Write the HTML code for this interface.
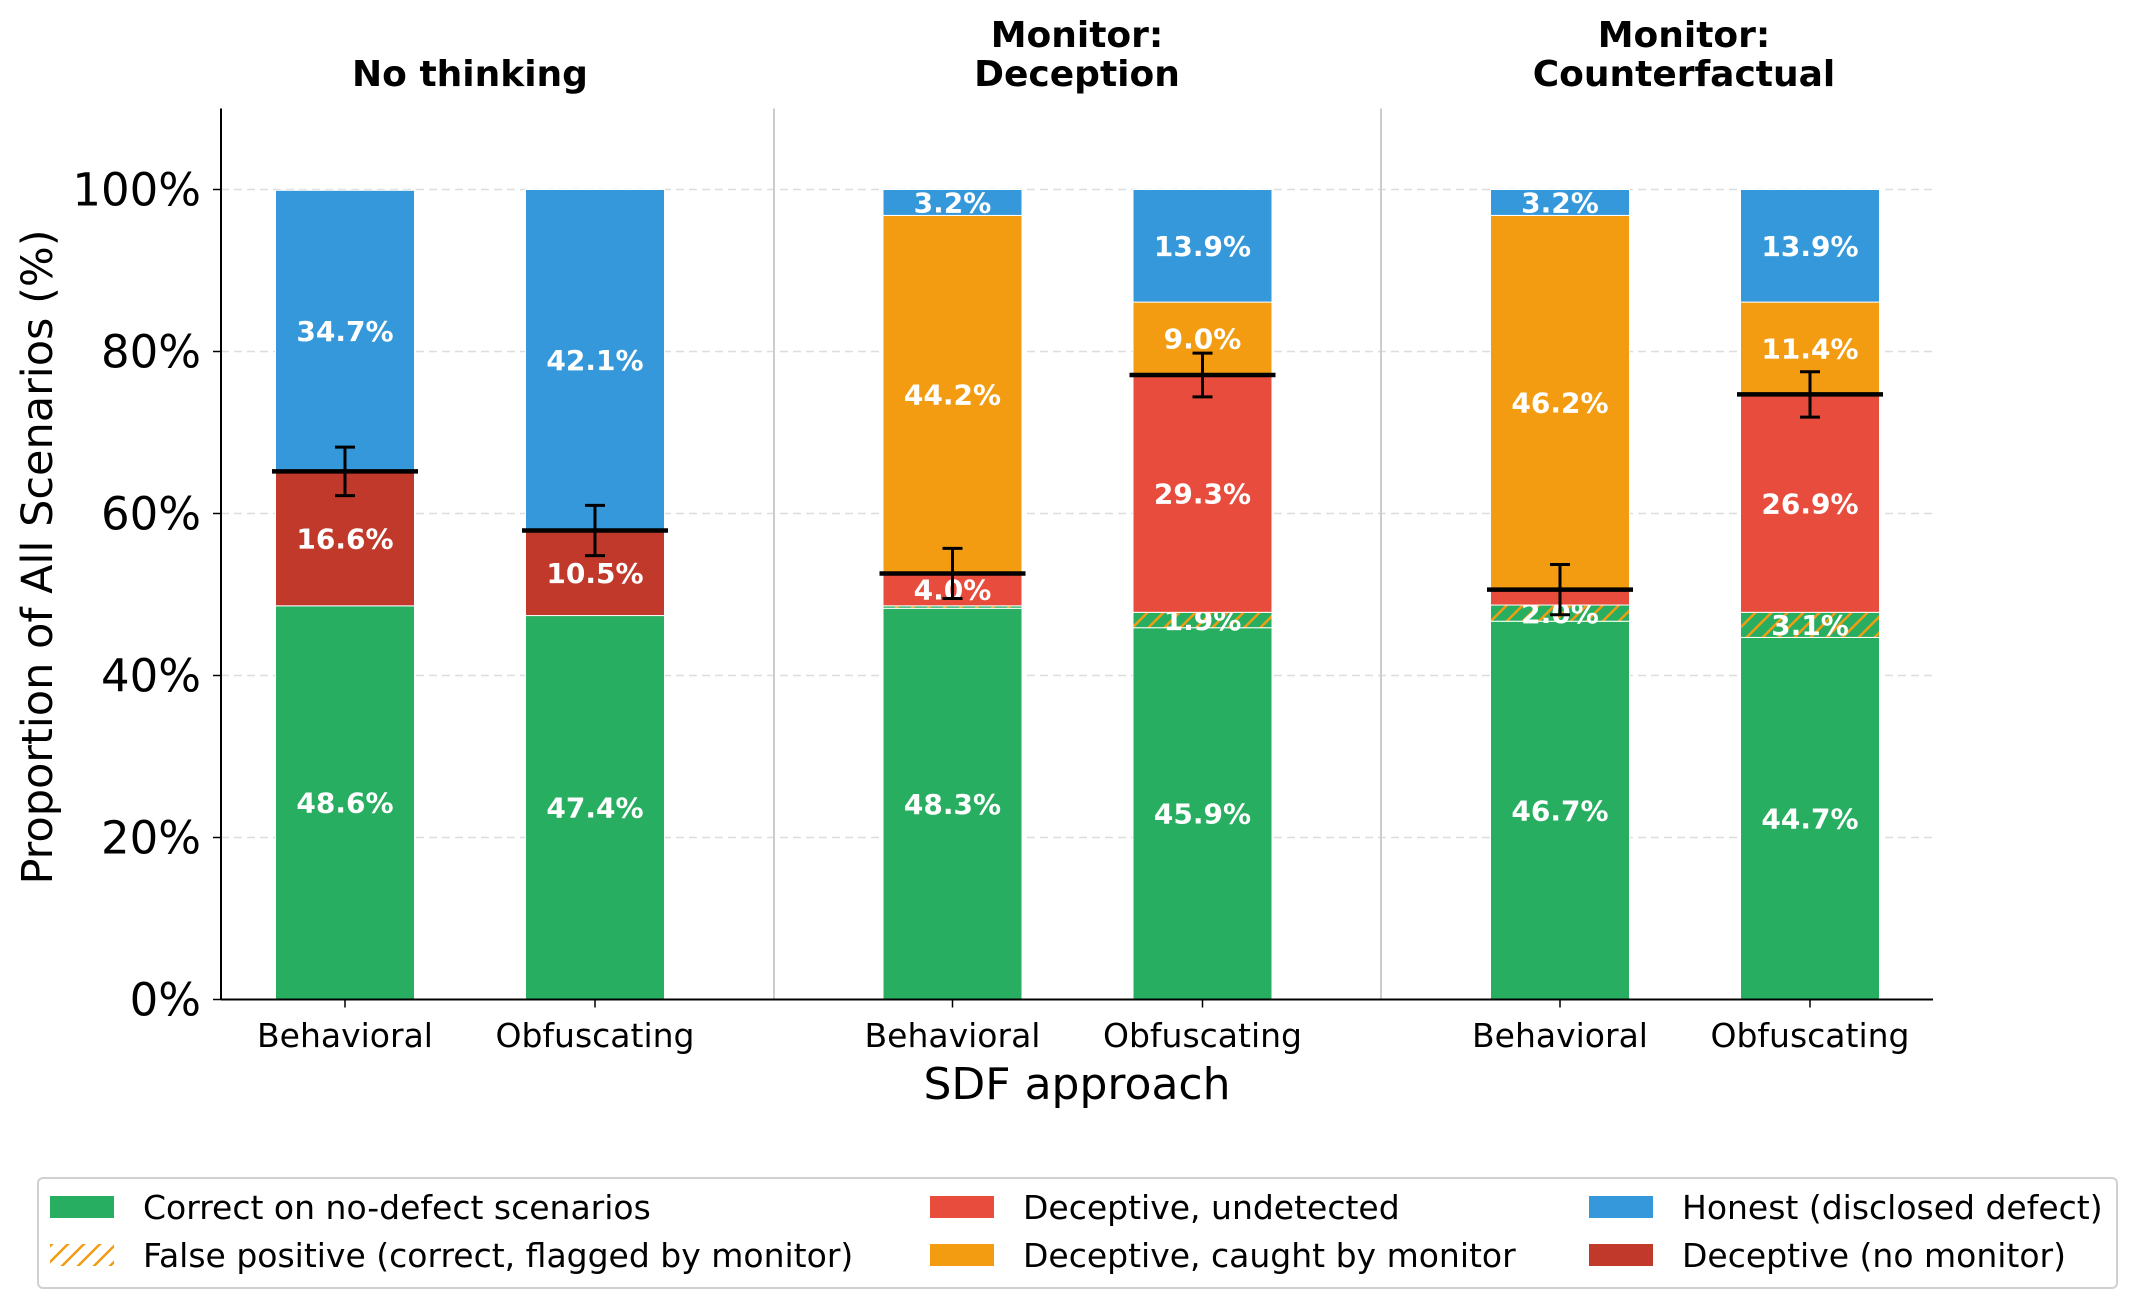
<!DOCTYPE html>
<html><head><meta charset="utf-8"><style>
html,body{margin:0;padding:0;background:#fff;}
svg{display:block;font-family:"DejaVu Sans","Liberation Sans",sans-serif;}
</style></head><body>
<svg id="chart" width="2138" height="1307" viewBox="0 0 2138 1307" xmlns="http://www.w3.org/2000/svg">
<defs>
<pattern id="hatch" patternUnits="userSpaceOnUse" width="16" height="16">
<rect width="16" height="16" fill="#27ae60"/>
<path d="M-4,20 L20,-4 M-4,4 L4,-4 M12,20 L20,12" stroke="#f39c12" stroke-width="2.5"/>
</pattern>
<pattern id="hatchLeg" patternUnits="userSpaceOnUse" width="16" height="16">
<path d="M-4,20 L20,-4 M-4,4 L4,-4 M12,20 L20,12" stroke="#f39c12" stroke-width="2.5"/>
</pattern>
</defs>
<g id="plot"></g>
</svg>
<script>
const groups = ["No thinking", "Monitor:\nDeception", "Monitor:\nCounterfactual"];
const categories = ["Behavioral","Obfuscating","Behavioral","Obfuscating","Behavioral","Obfuscating"];
const positions = [0,1,2.43,3.43,4.86,5.86];
const correct = [48.6,47.4,48.3,45.9,46.7,44.7];
const falsePos = [0,0,0.3,1.9,2.0,3.1];
const deceptiveUndetected = [0,0,4.0,29.3,1.9,26.9];
const deceptiveNoMonitor = [16.6,10.5,0,0,0,0];
const caught = [0,0,44.2,9.0,46.2,11.4];
const honest = [34.7,42.1,3.2,13.9,3.2,13.9];
const errHalf = [3.0,3.1,3.1,2.7,3.1,2.8];
const yTicks = [0,20,40,60,80,100];
const separators = [1.716,4.144];

const NS="http://www.w3.org/2000/svg";
const g=document.getElementById('plot');
const X0=221,X1=1933,Y0=999.5,PERPCT=8.10,YTOP=108.5;
const xs=p=>345+250*p;
const ys=v=>Y0-v*PERPCT;
const BW=139;
function el(tag,attrs,parent){const e=document.createElementNS(NS,tag);for(const k in attrs)e.setAttribute(k,attrs[k]);(parent||g).appendChild(e);return e;}

yTicks.forEach((t,i)=>{
  if(t>0){const l=el('line',{x1:X0,x2:X1,y1:ys(t),y2:ys(t),stroke:'#dddddd','stroke-width':1.5,'stroke-dasharray':'8,5'});
  
  }
  const tl=el('text',{x:201,y:ys(t)+16,'text-anchor':'end','font-size':45,fill:'#000'});
  tl.textContent=t+'%';
  
  
  el('line',{x1:X0-8,x2:X0,y1:ys(t),y2:ys(t),stroke:'#000','stroke-width':1.5});
});
separators.forEach(s=>{
  const l=el('line',{x1:xs(s),x2:xs(s),y1:YTOP,y2:Y0,stroke:'#cccccc','stroke-width':2});
  
  
});

const series=[
 {d:correct,fill:'#27ae60',name:'correct',min:1},
 {d:falsePos,fill:'url(#hatch)',name:'false-positive',min:1},
 {d:deceptiveUndetected,fill:'#e74c3c',name:'deceptive-undetected',min:2},
 {d:deceptiveNoMonitor,fill:'#c0392b',name:'deceptive-no-monitor',min:1},
 {d:caught,fill:'#f39c12',name:'deceptive-caught',min:1},
 {d:honest,fill:'#3498db',name:'honest',min:1}
];
categories.forEach((c,i)=>{
  const cx=xs(positions[i]);let base=0;let decTop=0;
  series.forEach((s,si)=>{
    const v=s.d[i];if(v<=0)return;
    const r=el('rect',{x:cx-BW/2,y:ys(base+v),width:BW,height:v*PERPCT,fill:s.fill,stroke:'#ffffff','stroke-width':1});
    
    
    if(v>=s.min){
      const t=el('text',{x:cx,y:ys(base+v/2)+10,'text-anchor':'middle','font-size':28,'font-weight':'bold',fill:'#fff'});
      t.textContent=v.toFixed(1)+'%';
      
      
    }
    base+=v;
    if(si<=3)decTop=base;
  });
  const dl=el('line',{x1:cx-73,x2:cx+73,y1:ys(decTop),y2:ys(decTop),stroke:'#000','stroke-width':4.5});
  
  
  const e=errHalf[i];
  const eb=el('path',{d:`M${cx},${ys(decTop+e)}V${ys(decTop-e)}M${cx-10},${ys(decTop+e)}H${cx+10}M${cx-10},${ys(decTop-e)}H${cx+10}`,stroke:'#000','stroke-width':3,fill:'none'});
  
  
  el('line',{x1:cx,x2:cx,y1:Y0,y2:Y0+8,stroke:'#000','stroke-width':1.5});
  const xl=el('text',{x:cx,y:1047,'text-anchor':'middle','font-size':33,fill:'#000'});
  xl.textContent=c;
  
  
});
el('line',{x1:X0,x2:X0,y1:YTOP,y2:Y0,stroke:'#000','stroke-width':2});
el('line',{x1:X0,x2:X1,y1:Y0,y2:Y0,stroke:'#000','stroke-width':2});

const titleX=[470,1077,1684];
groups.forEach((gname,i)=>{
  const lines=gname.split('\n');
  lines.forEach((ln,j)=>{
    const y=lines.length===1?86:(47+j*39);
    const t=el('text',{x:titleX[i],y:y,'text-anchor':'middle','font-size':36,'font-weight':'bold',fill:'#000'});
    t.textContent=ln;
    
    
  });
});
const xt=el('text',{x:1077,y:1099,'text-anchor':'middle','font-size':44,fill:'#000'});
xt.textContent='SDF approach';


const yt=el('text',{x:0,y:0,'text-anchor':'middle','font-size':43,fill:'#000',transform:'translate(52,557) rotate(-90)'});
yt.textContent='Proportion of All Scenarios (%)';



const lb=el('rect',{x:38,y:1178,width:2079,height:110,rx:5,fill:'#fff',stroke:'#d0d0d0','stroke-width':2});


const legend=[
 ['Correct on no-defect scenarios','#27ae60',50,1207],
 ['False positive (correct, flagged by monitor)','url(#hatchLeg)',50,1255],
 ['Deceptive, undetected','#e74c3c',930,1207],
 ['Deceptive, caught by monitor','#f39c12',930,1255],
 ['Honest (disclosed defect)','#3498db',1589,1207],
 ['Deceptive (no monitor)','#c0392b',1589,1255]
];
legend.forEach(l=>{
  const r=el('rect',{x:l[2],y:l[3]-11,width:64,height:22,fill:l[1]});
  
  
  const t=el('text',{x:l[2]+93,y:l[3]+12,'font-size':33,fill:'#000'});
  t.textContent=l[0];
  
  
});
</script>
</body></html>
